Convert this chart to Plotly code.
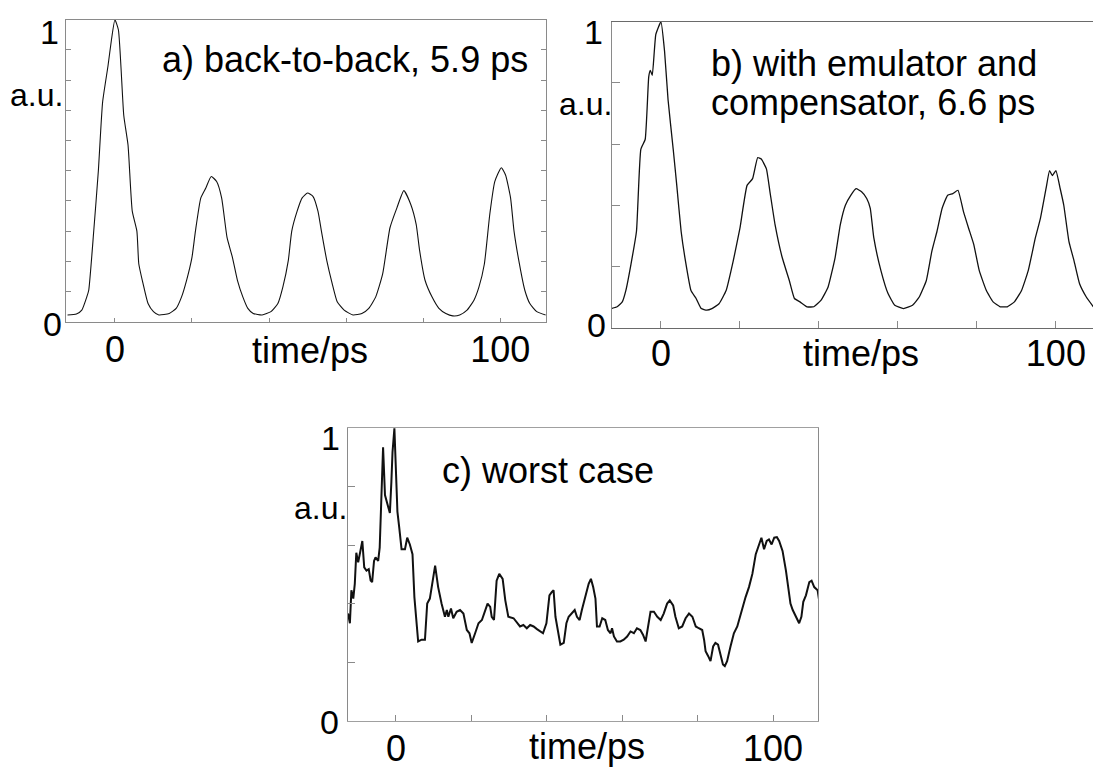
import plotly.graph_objects as go

W, H = 1093, 769

# ---------------- data ----------------
# a) back-to-back
t_a = [-12.3, -10.0, -8.6, -7.3, -6.8, -5.5, -4.3, -3.2, -1.8, -0.9, 0.0, 0.9, 2.3, 3.4, 4.5, 5.7, 6.2, 7.3, 8.6, 10.0,
       11.4, 14.1, 15.9, 17.3, 18.6, 20.0, 20.9, 22.3, 23.6, 25.0, 26.4, 27.7, 29.1, 30.5, 31.8, 33.2, 34.5, 35.9, 38.2, 40.5,
       42.3, 43.6, 45.0, 45.9, 47.3, 48.6, 50.0, 51.4, 52.7, 53.6, 55.0, 56.4, 57.7, 59.5, 61.8, 64.1, 65.9, 67.7, 69.5, 71.4,
       73.2, 75.0, 76.8, 78.2, 79.1, 80.5, 82.3, 84.1, 85.9, 87.7, 89.5, 91.4, 93.2, 94.5, 95.9, 97.3, 98.6, 100.3, 101.4, 102.7,
       103.6, 105.0, 106.4, 107.7, 109.5, 111.8]
v_a = [0.022, 0.025, 0.038, 0.082, 0.104, 0.30, 0.50, 0.727, 0.847, 0.934, 1.0, 0.967, 0.683, 0.585, 0.366, 0.30, 0.191, 0.126, 0.06, 0.033,
       0.022, 0.027, 0.044, 0.082, 0.137, 0.213, 0.30, 0.41, 0.443, 0.481, 0.464, 0.41, 0.279, 0.213, 0.137, 0.082, 0.044, 0.027, 0.022, 0.033,
       0.06, 0.115, 0.202, 0.30, 0.366, 0.41, 0.426, 0.415, 0.366, 0.30, 0.202, 0.126, 0.066, 0.038, 0.022, 0.027, 0.044, 0.082, 0.158, 0.311,
       0.377, 0.434, 0.388, 0.322, 0.235, 0.137, 0.082, 0.044, 0.027, 0.019, 0.022, 0.038, 0.071, 0.115, 0.191, 0.355, 0.464, 0.510, 0.486, 0.41,
       0.30, 0.191, 0.104, 0.06, 0.033, 0.022]

# b) with emulator and compensator
t_b = [-12.7, -11.1, -9.8, -8.9, -7.6, -6.2, -5.1, -4.0, -3.1, -2.7, -2.2, -1.3, 0.0, 0.9, 1.8, 3.1, 4.0, 5.1, 6.2, 7.6,
       8.9, 10.2, 11.6, 12.9, 14.7, 16.5, 18.3, 20.0, 21.8, 23.2, 24.5, 25.4, 26.7, 27.6, 28.9, 30.7, 32.5, 33.8, 35.2, 37.0,
       38.7, 40.5, 42.3, 44.1, 45.4, 46.7, 48.1, 49.4, 50.8, 52.1, 53.0, 53.9, 55.7, 57.5, 59.2, 61.4, 63.7, 65.4, 67.2, 68.6,
       69.9, 71.2, 72.6, 73.9, 75.2, 76.6, 77.9, 79.2, 80.6, 82.4, 84.1, 85.9, 87.7, 89.5, 91.3, 93.0, 94.8, 96.1, 97.5, 98.4,
       99.1, 100.0, 101.1, 102.0, 103.3, 104.6, 106.0, 107.7, 109.5]
v_b = [0.062, 0.068, 0.084, 0.121, 0.207, 0.315, 0.583, 0.615, 0.82, 0.841, 0.825, 0.959, 1.0, 0.905, 0.744, 0.583, 0.465, 0.315, 0.218, 0.121,
       0.095, 0.062, 0.057, 0.062, 0.078, 0.121, 0.218, 0.325, 0.465, 0.487, 0.556, 0.551, 0.519, 0.444, 0.336, 0.229, 0.154, 0.095, 0.084, 0.068,
       0.068, 0.089, 0.132, 0.229, 0.336, 0.40, 0.433, 0.454, 0.444, 0.422, 0.39, 0.293, 0.186, 0.111, 0.073, 0.062, 0.073, 0.10, 0.154, 0.25,
       0.315, 0.39, 0.433, 0.438, 0.449, 0.379, 0.325, 0.272, 0.186, 0.121, 0.084, 0.068, 0.068, 0.084, 0.121, 0.186, 0.293, 0.358, 0.454, 0.513,
       0.497, 0.513, 0.454, 0.40, 0.282, 0.218, 0.143, 0.10, 0.068]

# c) worst case
t_c = [-12.7, -12.2, -11.8, -11.3, -10.9, -10.5, -10.0, -9.6, -8.9, -8.4,
       -7.8, -7.2, -6.7, -6.3, -5.8, -5.4, -4.7, -4.3, -3.8, -3.4,
       -2.9, -2.5, -2.0, -1.6, -1.2, -0.9, -0.4, 0.0, 0.4, 0.9,
       1.5, 2.4, 3.0, 3.7, 4.4, 4.9, 5.5, 5.9, 6.8, 7.7,
       8.3, 9.0, 10.4, 11.2, 12.1, 13.0, 13.5, 13.9, 14.6, 15.2,
       16.1, 17.0, 17.9, 18.8, 19.5, 20.1, 21.0, 21.9, 22.8, 23.6,
       24.3, 25.0, 25.4, 26.0, 26.7, 27.4, 28.3, 29.0, 29.8, 31.2,
       32.1, 32.9, 33.8, 34.7, 35.6, 36.5, 37.4, 38.3, 39.0, 39.9,
       40.7, 41.3, 41.8, 42.3, 42.9, 43.6, 44.5, 45.2, 45.8, 46.7,
       47.4, 48.0, 48.7, 49.3, 50.2, 51.1, 51.7, 52.3, 52.9, 53.3,
       54.0, 54.7, 55.5, 56.2, 56.9, 57.3, 57.8, 58.6, 59.5, 60.4,
       61.3, 62.2, 63.1, 63.9, 64.8, 65.5, 66.2, 66.8, 67.5, 68.4,
       69.3, 70.2, 71.0, 71.9, 72.6, 73.5, 74.1, 75.0, 75.9, 76.8,
       77.7, 78.6, 79.5, 80.3, 81.2, 81.7, 82.1, 82.8, 83.4, 84.1,
       84.7, 85.4, 86.1, 86.7, 87.2, 87.8, 88.7, 89.6, 90.5, 91.2,
       91.8, 92.7, 93.6, 94.5, 95.4, 96.3, 96.9, 97.6, 98.3, 98.9,
       99.6, 100.3, 101.0, 101.6, 102.5, 103.4, 104.0, 104.6, 105.2, 106.0,
       106.9, 107.5, 108.0, 108.7, 109.6, 110.2, 110.9, 111.8, 112.4]
v_c = [0.367, 0.334, 0.446, 0.418, 0.468, 0.574, 0.541, 0.569, 0.614, 0.524,
       0.513, 0.518, 0.479, 0.474, 0.546, 0.558, 0.546, 0.591, 0.759, 0.933,
       0.77, 0.748, 0.726, 0.709, 0.815, 0.916, 0.997, 0.871, 0.714, 0.658,
       0.586, 0.586, 0.625, 0.602, 0.569, 0.423, 0.311, 0.272, 0.278, 0.278,
       0.401, 0.418, 0.53, 0.457, 0.401, 0.356, 0.379, 0.356, 0.384, 0.351,
       0.373, 0.379, 0.367, 0.311, 0.30, 0.267, 0.30, 0.334, 0.345, 0.379,
       0.401, 0.39, 0.356, 0.345, 0.479, 0.502, 0.485, 0.412, 0.356, 0.351,
       0.334, 0.323, 0.328, 0.317, 0.328, 0.323, 0.314, 0.306, 0.30, 0.334,
       0.429, 0.44, 0.446, 0.356, 0.311, 0.261, 0.267, 0.334, 0.356, 0.367,
       0.379, 0.356, 0.345, 0.379, 0.429, 0.468, 0.485, 0.457, 0.418, 0.323,
       0.323, 0.351, 0.345, 0.311, 0.30, 0.317, 0.289, 0.272, 0.272, 0.278,
       0.289, 0.306, 0.30, 0.317, 0.311, 0.295, 0.272, 0.323, 0.373, 0.373,
       0.356, 0.345, 0.367, 0.401, 0.412, 0.395, 0.356, 0.317, 0.323, 0.351,
       0.367, 0.356, 0.323, 0.317, 0.311, 0.278, 0.239, 0.222, 0.205, 0.255,
       0.267, 0.261, 0.222, 0.194, 0.188, 0.205, 0.255, 0.30, 0.323, 0.356,
       0.379, 0.423, 0.457, 0.502, 0.569, 0.608, 0.625, 0.586, 0.614, 0.619,
       0.602, 0.625, 0.627, 0.614, 0.58, 0.513, 0.457, 0.401, 0.379, 0.356,
       0.334, 0.356, 0.407, 0.429, 0.474, 0.479, 0.457, 0.446, 0.395]

x_tickvals = [0, 20, 40, 60, 80, 100]
x_ticktext = ["0", "", "", "", "", "100"]
panel_titles = ["a) back-to-back, 5.9 ps", "b) with emulator and", "compensator, 6.6 ps", "c) worst case"]
x_label = "time/ps"
y_label = "a.u."

# ---------------- layout helpers ----------------
FONT = "Liberation Sans, Arial, Helvetica, sans-serif"
AX = "#8a8a8a"


def px(x):
    return x / W


def py(y):
    return 1 - y / H


fig = go.Figure()
fig.add_trace(go.Scatter(x=t_a, y=v_a, mode="lines", line=dict(color="#111", width=1.1, shape="spline", smoothing=0.5),
                         xaxis="x", yaxis="y", showlegend=False, hoverinfo="skip"))
fig.add_trace(go.Scatter(x=t_b, y=v_b, mode="lines", line=dict(color="#111", width=1.3, shape="spline", smoothing=0.4),
                         xaxis="x2", yaxis="y2", showlegend=False, hoverinfo="skip"))
fig.add_trace(go.Scatter(x=t_c, y=v_c, mode="lines", line=dict(color="#111", width=2.0),
                         xaxis="x3", yaxis="y3", showlegend=False, hoverinfo="skip"))


def xax(dom, rng, ticklen, linecolor, standoff):
    return dict(domain=dom, range=rng, tickmode="array", tickvals=x_tickvals, ticktext=x_ticktext,
                ticks="inside", ticklen=ticklen, tickcolor=AX, tickwidth=1,
                showline=True, linecolor=linecolor, linewidth=1, mirror=True,
                showgrid=False, zeroline=False, fixedrange=True,
                tickfont=dict(family=FONT, size=36, color="black"), ticklabelstandoff=standoff)


def yax(dom, dtick, ticklen, mirror):
    return dict(domain=dom, range=[0, 1], tickmode="linear", tick0=0, dtick=dtick,
                ticks="inside", ticklen=ticklen, tickcolor=AX, tickwidth=1,
                showline=True, linecolor=AX, linewidth=1, mirror=mirror,
                showgrid=False, zeroline=False, showticklabels=False, fixedrange=True)


layout = dict(
    width=W, height=H, margin=dict(l=0, r=0, t=0, b=0),
    paper_bgcolor="white", plot_bgcolor="white",
    xaxis=xax([px(66), px(546)], [-12.7, 111.9], 4, AX, -4),
    yaxis=yax([py(325), py(20)], 0.1, 5, "ticks"),
    xaxis2=xax([px(612), 1.0], [-12.4, 109.4], 7, "#6a6a6a", -6),
    yaxis2=yax([py(331), py(22)], 0.2, 8, False),
    xaxis3=xax([px(348), px(818)], [-12.7, 111.9], 6, "#a0a0a0", -5),
    yaxis3=yax([py(729), py(432)], 0.2, 7, True),
)
layout["xaxis"]["anchor"] = "y"
layout["yaxis"]["anchor"] = "x"
layout["xaxis2"]["anchor"] = "y2"
layout["yaxis2"]["anchor"] = "x2"
layout["xaxis3"]["anchor"] = "y3"
layout["yaxis3"]["anchor"] = "x3"
fig.update_layout(**layout)


def ann(text, x, y, xanchor, size=36):
    fig.add_annotation(text=text, x=px(x), y=py(y), xref="paper", yref="paper",
                       xanchor=xanchor, yanchor="middle", showarrow=False,
                       font=dict(family=FONT, size=size, color="black"))


# panel a
ann("1", 61, 32, "right", 34)
ann("0", 64, 327, "right", 34)
ann(y_label, 8, 96, "left", 32)
ann(panel_titles[0], 160, 60, "left")
ann(x_label, 310, 354, "center")
# panel b
ann("1", 605, 32, "right", 34)
ann("0", 608, 328, "right", 34)
ann(y_label, 614, 105, "right", 32)
ann(panel_titles[1], 709, 64, "left")
ann(panel_titles[2], 709, 104, "left")
ann(x_label, 861, 357, "center")
# panel c
ann("1", 342, 443, "right", 34)
ann("0", 341, 730, "right", 34)
ann(y_label, 349, 513, "right", 32)
ann(panel_titles[3], 440, 475, "left")
ann(x_label, 587, 754, "center")

post = ("document.documentElement.style.margin='0';document.body.style.margin='0';"
        "document.documentElement.style.overflow='hidden';document.body.style.overflow='hidden';"
        "var g=document.querySelectorAll('.plotly-graph-div');"
        "for(var i=0;i<g.length;i++){g[i].style.overflow='hidden';}")
fig.write_html("out.html", config={"displayModeBar": False, "staticPlot": True}, post_script=post)
